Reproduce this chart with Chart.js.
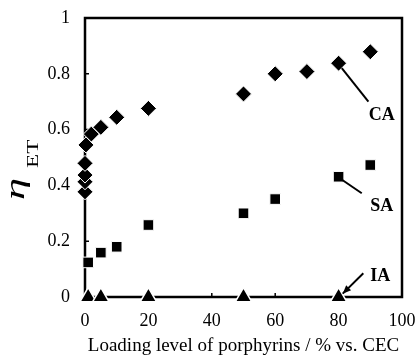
<!DOCTYPE html>
<html>
<head>
<meta charset="utf-8">
<script src="https://cdn.jsdelivr.net/npm/chart.js@4/dist/chart.umd.min.js"></script>
<style>
  html, body { margin: 0; padding: 0; background: #fff; }
  #wrap { width: 418px; height: 355px; }
</style>
</head>
<body>
<div id="wrap"><canvas id="main-chart" width="418" height="355"></canvas></div>
<script>
// loading level (% vs. CEC) and eta_ET
const caLoading = [0, 0, 0, 0, 0.3, 2, 5, 10, 20, 50, 60, 70, 80, 90]
const caEta = [0.377, 0.413, 0.437, 0.479, 0.545, 0.584, 0.608, 0.644, 0.676, 0.728, 0.80, 0.808, 0.838, 0.879]

const saLoading = [1, 5, 10, 20, 50, 60, 80, 90]
const saEta = [0.124, 0.159, 0.18, 0.258, 0.30, 0.351, 0.431, 0.473]

const iaLoading = [1, 5, 20, 50, 80]
const iaEta = [0, 0, 0, 0, 0]

const xTicks = [0, 20, 40, 60, 80, 100]
const yTicks = [0, 0.2, 0.4, 0.6, 0.8, 1]

const SERIF = '"Liberation Serif", "Times New Roman", serif'

const toPoints = (xs, ys) => xs.map((x, i) => ({ x: x, y: ys[i] }))

const framePlugin = {
  id: 'frame',
  beforeDatasetsDraw: (chart) => {
    const { ctx, chartArea: a, scales } = chart
    ctx.save()
    ctx.strokeStyle = '#000'
    ctx.lineWidth = 2.5
    ctx.strokeRect(a.left, a.top, a.right - a.left, a.bottom - a.top)
    ctx.lineWidth = 1.5
    ctx.beginPath()
    yTicks.slice(1, -1).forEach(v => {
      const y = scales.y.getPixelForValue(v)
      ctx.moveTo(a.left, y)
      ctx.lineTo(a.left + 4, y)
    })
    xTicks.slice(1, -1).forEach(v => {
      const x = scales.x.getPixelForValue(v)
      ctx.moveTo(x, a.bottom)
      ctx.lineTo(x, a.bottom - 4)
    })
    ctx.stroke()
    ctx.restore()
  },
  afterDraw: (chart) => {
    const { ctx, chartArea: a, scales } = chart
    const px = (x, y) => [scales.x.getPixelForValue(x), scales.y.getPixelForValue(y)]
    ctx.save()
    ctx.strokeStyle = '#000'
    ctx.fillStyle = '#000'
    ctx.lineWidth = 2

    // callout lines
    const line = (p, q) => {
      ctx.beginPath()
      ctx.moveTo(p[0], p[1])
      ctx.lineTo(q[0], q[1])
      ctx.stroke()
    }
    line(px(81, 0.82), px(89.4, 0.70))
    line(px(80.6, 0.424), px(87.3, 0.372))
    const tail = px(87.8, 0.085)
    const tip = px(81.3, 0.012)
    line(tail, tip)
    const ang = Math.atan2(tip[1] - tail[1], tip[0] - tail[0])
    ctx.beginPath()
    ctx.moveTo(tip[0], tip[1])
    ctx.lineTo(tip[0] - 9 * Math.cos(ang - 0.4), tip[1] - 9 * Math.sin(ang - 0.4))
    ctx.lineTo(tip[0] - 9 * Math.cos(ang + 0.4), tip[1] - 9 * Math.sin(ang + 0.4))
    ctx.closePath()
    ctx.fill()

    ctx.font = 'bold 18px ' + SERIF
    ctx.textAlign = 'center'
    ctx.textBaseline = 'middle'
    let p = px(93.6, 0.652)
    ctx.fillText('CA', p[0], p[1])
    p = px(93.6, 0.324)
    ctx.fillText('SA', p[0], p[1])
    p = px(93.1, 0.073)
    ctx.fillText('IA', p[0], p[1])

    // x axis title
    ctx.font = '19px ' + SERIF
    ctx.textBaseline = 'alphabetic'
    ctx.fillText('Loading level of porphyrins / % vs. CEC', (a.left + a.right) / 2, 351)

    // y axis title, eta with subscript ET (glyphs are stretched in the original)
    ctx.translate(24, 200)
    ctx.rotate(-Math.PI / 2)
    ctx.textAlign = 'left'
    ctx.save()
    ctx.scale(1.6, 1)
    ctx.font = 'italic 28px ' + SERIF
    ctx.fillText('\u03B7', 0, 0)
    ctx.restore()
    ctx.save()
    ctx.translate(32, 14)
    ctx.scale(1.45, 1)
    ctx.font = '16px ' + SERIF
    ctx.fillText('ET', 0, 0)
    ctx.restore()
    ctx.restore()
  }
}

const chartCanvas = document.getElementById('main-chart')
const myChart = new Chart(chartCanvas.getContext('2d'), {
  type: 'scatter',
  data: {
    datasets: [
      {
        label: 'CA',
        data: toPoints(caLoading, caEta),
        pointStyle: 'rectRot',
        pointRadius: 8,
        backgroundColor: '#000',
        borderColor: '#fff',
        borderWidth: 1
      },
      {
        label: 'SA',
        data: toPoints(saLoading, saEta),
        pointStyle: 'rect',
        pointRadius: 7.5,
        backgroundColor: '#000',
        borderColor: '#fff',
        borderWidth: 1
      },
      {
        label: 'IA',
        data: toPoints(iaLoading, iaEta),
        pointStyle: 'triangle',
        pointRadius: 9.5,
        backgroundColor: '#000',
        borderColor: '#fff',
        borderWidth: 1.5
      }
    ]
  },
  options: {
    responsive: false,
    animation: false,
    clip: false,
    layout: { padding: { top: 18, right: 16, left: 0, bottom: 0 } },
    plugins: {
      legend: { display: false },
      tooltip: { enabled: false }
    },
    scales: {
      x: {
        type: 'linear',
        min: 0,
        max: 100,
        afterBuildTicks: (scale) => { scale.ticks = xTicks.map(v => ({ value: v })) },
        afterFit: (scale) => {
          scale.height = 58
          scale.paddingLeft = 0
          scale.paddingRight = 0
        },
        grid: { display: false, drawTicks: false },
        border: { display: false },
        ticks: { color: '#000', padding: 13, font: { family: SERIF, size: 18 } }
      },
      y: {
        type: 'linear',
        min: 0,
        max: 1,
        afterBuildTicks: (scale) => { scale.ticks = yTicks.map(v => ({ value: v })) },
        afterFit: (scale) => {
          scale.width = 85
          scale.paddingTop = 0
          scale.paddingBottom = 0
        },
        grid: { display: false, drawTicks: false },
        border: { display: false },
        ticks: {
          color: '#000',
          padding: 15,
          font: { family: SERIF, size: 18 },
          callback: (v) => String(v)
        }
      }
    }
  },
  plugins: [framePlugin]
})
</script>
</body>
</html>
